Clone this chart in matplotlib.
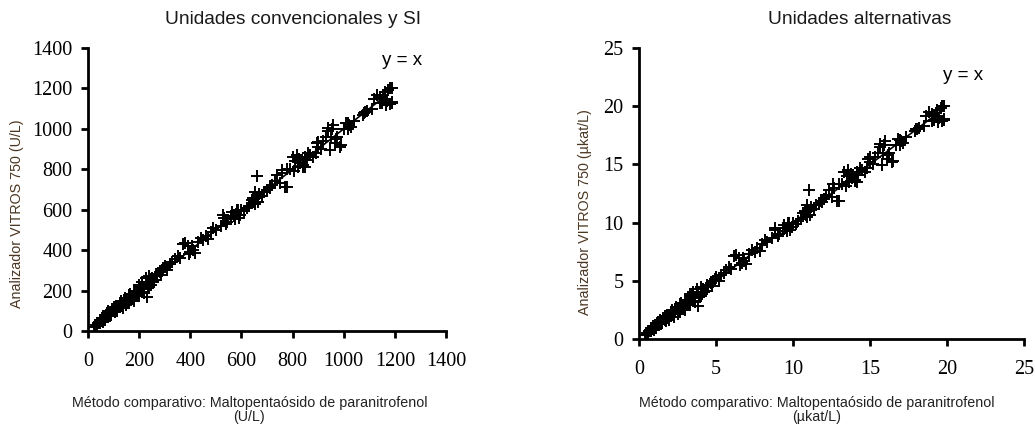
import matplotlib
matplotlib.use('Agg')
import matplotlib.pyplot as plt
import numpy as np

# datos (U/L)
metodo_comparativo = [25, 30, 35, 40, 45, 50, 55, 60, 65, 70, 70, 80, 80, 85, 90, 95, 100, 110, 110, 120,
                      130, 130, 140, 150, 150, 160, 160, 170, 180, 180, 190, 200, 200, 200, 210, 210, 220, 220,
                      230, 230, 240, 240, 250, 260, 270, 280, 290, 300, 330, 350, 370, 379, 390, 400, 410,
                      418, 430, 451, 460, 480, 490, 520, 529, 530, 540, 560, 570, 580, 581, 590, 600, 620,
                      640, 650, 653, 660, 662, 670, 690, 700, 710, 712, 720, 740, 757, 760, 770, 779, 780,
                      790, 800, 810, 816, 820, 830, 841, 850, 850, 855, 870, 890, 894, 900, 901, 920, 940,
                      940, 946, 950, 960, 970, 986, 990, 1000, 1010, 1018, 1020, 1030, 1080, 1083, 1090,
                      1120, 1129, 1140, 1142, 1150, 1160, 1170, 1175, 1180, 1181, 1188, 1190, 1190,
                      # puntos adicionales de la banda densa
                      45, 60, 75, 90, 100, 105, 115, 125, 135, 145, 155, 165, 175, 185, 195, 205, 215, 225,
                      235, 245, 255, 265, 285, 295, 310, 320, 340, 360, 395, 405, 440, 470, 500, 545, 565,
                      575, 585, 595, 610, 630, 645, 655, 665, 680, 730, 750, 805, 825, 840, 860, 880, 910,
                      930, 955, 965, 975, 1015, 1040, 1075, 1110, 1155, 1165]
vitros_750 = [20, 30, 25, 40, 40, 50, 65, 60, 55, 70, 80, 100, 80, 75, 90, 110, 100, 110, 120, 120,
              130, 150, 150, 160, 130, 180, 140, 170, 200, 150, 190, 200, 180, 230, 220, 240, 210, 190,
              240, 170, 270, 220, 260, 250, 270, 290, 300, 320, 340, 370, 430, 435, 420, 390, 400,
              386, 440, 450, 470, 490, 508, 520, 574, 560, 530, 570, 570, 580, 599, 560, 600, 610,
              650, 640, 689, 660, 767, 680, 690, 700, 710, 706, 720, 770, 797, 780, 710, 711, 800,
              800, 860, 840, 871, 810, 830, 813, 860, 810, 846, 870, 880, 929, 910, 937, 940, 990,
              1003, 896, 960, 1020, 950, 912, 920, 1000, 1030, 1028, 1020, 1010, 1080, 1085, 1090,
              1150, 1168, 1160, 1126, 1130, 1180, 1140, 1190, 1125, 1201, 1135, 1200, 1130,
              55, 45, 90, 80, 120, 95, 100, 140, 115, 165, 140, 185, 160, 200, 175, 220, 195, 260,
              215, 230, 240, 280, 275, 310, 300, 330, 355, 360, 380, 420, 460, 455, 500, 540, 590,
              555, 600, 575, 595, 620, 660, 630, 640, 670, 740, 730, 790, 850, 820, 880, 860, 900,
              960, 1000, 930, 960, 1000, 1040, 1070, 1100, 1150, 1120]

UL_POR_UKAT = 60.0  # 1 ukat/L = 60 U/L

paneles = [
    {'titulo': 'Unidades convencionales y SI', 'factor': 1.0, 'lim': 1400, 'paso': 200,
     'unidad': '(U/L)', 'pos': [88, 331, 446, 48], 'texto': (1150, 1340),
     'xlabel_c': 249.5, 'ylabel_x': 17, 'ylabel_y': 214, 'titulo_x': 293},
    {'titulo': 'Unidades alternativas', 'factor': UL_POR_UKAT, 'lim': 25, 'paso': 5,
     'unidad': '(\u00b5kat/L)', 'pos': [639, 339, 1024, 48], 'texto': (19.74, 22.6),
     'xlabel_c': 817, 'ylabel_x': 585, 'ylabel_y': 212, 'titulo_x': 860},
]

W, H = 1034, 425
fig = plt.figure(figsize=(W / 100, H / 100), dpi=100)
serif = 'Liberation Serif'
sans = 'Liberation Sans'

for p in paneles:
    x0, yb, x1, yt = p['pos']
    ax = fig.add_axes([x0 / W, 1 - yb / H, (x1 - x0) / W, (yb - yt) / H])
    xs = np.array(metodo_comparativo) / p['factor']
    ys = np.array(vitros_750) / p['factor']
    ax.plot([min(xs), max(xs)], [min(xs), max(xs)], color='black', linewidth=1.2, zorder=2)
    ax.plot(xs, ys, linestyle='none', marker='+', markersize=9, markeredgewidth=1.4,
            color='black', zorder=3)
    ax.set_xlim(0, p['lim'])
    ax.set_ylim(0, p['lim'])
    ticks = np.arange(0, p['lim'] + p['paso'] / 2, p['paso'])
    ax.set_xticks(ticks)
    ax.set_yticks(ticks)
    ax.set_xticklabels([f'{t:g}' for t in ticks], fontfamily=serif, fontsize=14.5)
    ax.set_yticklabels([f'{t:g}' for t in ticks], fontfamily=serif, fontsize=14.5)
    ax.tick_params(direction='out', length=5, width=2, pad=6, color='black')
    ax.tick_params(axis='x', pad=10)
    for s in ['top', 'right']:
        ax.spines[s].set_visible(False)
    for s in ['left', 'bottom']:
        ax.spines[s].set_linewidth(2)
    ax.text(p['texto'][0], p['texto'][1], 'y = x', fontfamily=sans, fontsize=13.5,
            ha='left', va='center')

    fig.text(p['xlabel_c'] / W, 1 - 410 / H,
             'M\u00e9todo comparativo: Maltopenta\u00f3sido de paranitrofenol\n' + p['unidad'],
             fontfamily=sans, fontsize=10.3, ha='center', va='center', linespacing=1.05,
             color='#222222')
    fig.text(p['ylabel_x'] / W, 1 - p['ylabel_y'] / H, 'Analizador VITROS 750 ' + p['unidad'],
             fontfamily=sans, fontsize=10.3, rotation=90, ha='center', va='center',
             color='#4b3621')
    fig.text(p['titulo_x'] / W, 1 - 20 / H, p['titulo'], fontfamily=sans, fontsize=13.8,
             ha='center', va='center', color='#1a1a1a')

fig.savefig('out.png', dpi=100)
